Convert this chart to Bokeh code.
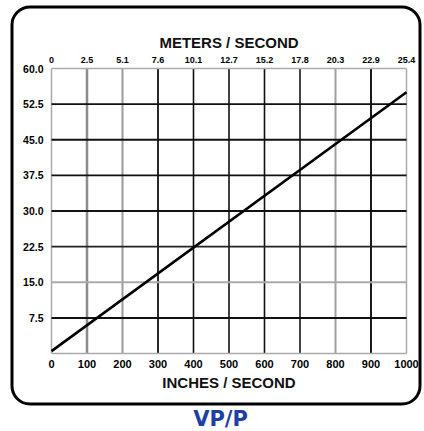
from bokeh.plotting import figure
from bokeh.models import Range1d
from bokeh.core.properties import value
from bokeh.embed import file_html
from bokeh.resources import INLINE

# ---- data ----
inches_ticks = [0, 100, 200, 300, 400, 500, 600, 700, 800, 900, 1000]
inches_labels = ["0", "100", "200", "300", "400", "500", "600", "700", "800", "900", "1000"]
meters_labels = ["0", "2.5", "5.1", "7.6", "10.1", "12.7", "15.2",
                 "17.8", "20.3", "22.9", "25.4"]
vpp_ticks = [0, 7.5, 15.0, 22.5, 30.0, 37.5, 45.0, 52.5, 60.0]
vpp_labels = ["7.5", "15.0", "22.5", "30.0", "37.5", "45.0", "52.5", "60.0"]
line_x = [0, 1000]
line_y = [0.5, 55.0]
x_max = 1000
y_max = 60.0
x_title = "INCHES / SECOND"
top_title = "METERS / SECOND"
caption = "VP/P"

# ---- styles ----
v_colors = ["#aaaaaa", "#8c8c8c", "#9a9a9a", "#111111", "#111111", "#111111",
            "#111111", "#444444", "#a0a0a0", "#1a1a1a", "#aaaaaa"]
v_widths = [1.5, 2.5, 2, 1.8, 1.6, 1.6, 1.6, 2, 2, 2, 1.5]
h_colors = ["#aaaaaa", "#111111", "#aaaaaa", "#222222", "#111111",
            "#111111", "#111111", "#111111", "#aaaaaa"]
h_widths = [1.5, 2, 2, 1.6, 1.8, 1.6, 2, 1.6, 1.5]

W, H = 424, 430
GL, GR, GT, GB = 51, 406, 68, 353  # grid area in canvas pixels


def px2x(px):
    return (px - GL) / (GR - GL) * x_max


def py2y(py):
    return (GB - py) / (GB - GT) * y_max


p = figure(width=W, height=H,
           x_range=Range1d(px2x(0), px2x(W)), y_range=Range1d(py2y(H), py2y(0)),
           x_axis_type=None, y_axis_type=None,
           output_backend="svg", toolbar_location=None, min_border=0)
p.xgrid.visible = False
p.ygrid.visible = False
p.outline_line_color = None
p.background_fill_color = "white"
p.border_fill_color = "white"

FONT = value("Liberation Sans")

# ---- rounded border (decoration, in pixel geometry) ----
BL, BR, BT, BB, R = 11.5, 419.5, 6.5, 403.5, 18
p.segment(x0=[px2x(BL + R), px2x(BL + R), px2x(BL), px2x(BR)],
          y0=[py2y(BT), py2y(BB), py2y(BT + R), py2y(BT + R)],
          x1=[px2x(BR - R), px2x(BR - R), px2x(BL), px2x(BR)],
          y1=[py2y(BT), py2y(BB), py2y(BB - R), py2y(BB - R)],
          line_color="black", line_width=3)
import math
p.arc(x=[px2x(BL + R), px2x(BR - R), px2x(BR - R), px2x(BL + R)],
      y=[py2y(BT + R), py2y(BT + R), py2y(BB - R), py2y(BB - R)],
      radius=R, radius_units="screen",
      start_angle=[math.pi / 2, 0, -math.pi / 2, math.pi],
      end_angle=[math.pi, math.pi / 2, 0, 3 * math.pi / 2],
      line_color="black", line_width=3)

# ---- grid ----
n = len(inches_ticks)
p.segment(x0=inches_ticks, y0=[0] * n, x1=inches_ticks, y1=[y_max] * n,
          line_color=v_colors, line_width=v_widths)
m = len(vpp_ticks)
p.segment(x0=[0] * m, y0=vpp_ticks, x1=[x_max] * m, y1=vpp_ticks,
          line_color=h_colors, line_width=h_widths)

# ---- the line ----
p.line(line_x, line_y, line_color="black", line_width=2.6)

# ---- tick labels ----
p.text(x=inches_ticks, y=[0] * n, text=inches_labels, y_offset=10,
       text_align="center", text_baseline="middle", text_font=FONT,
       text_font_style="bold", text_font_size="11px", text_color="black")
p.text(x=inches_ticks, y=[y_max] * n, text=meters_labels, y_offset=-9,
       text_align="center", text_baseline="middle", text_font=FONT,
       text_font_style="bold", text_font_size="9px", text_color="black")
p.text(x=[0] * (m - 1), y=vpp_ticks[1:], text=vpp_labels, x_offset=-8,
       text_align="right", text_baseline="middle", text_font=FONT,
       text_font_style="bold", text_font_size="10.5px", text_color="black")

# ---- axis titles ----
p.text(x=[x_max / 2], y=[0], text=[x_title], y_offset=29,
       text_align="center", text_baseline="middle", text_font=FONT,
       text_font_style="bold", text_font_size="15px", text_color="#111111")
p.text(x=[x_max / 2], y=[y_max], text=[top_title], y_offset=-26,
       text_align="center", text_baseline="middle", text_font=FONT,
       text_font_style="bold", text_font_size="15px", text_color="#111111")

# ---- caption ----
p.text(x=[px2x(220)], y=[0], text=[caption], y_offset=65,
       text_align="center", text_baseline="middle", text_font=value("DejaVu Sans"),
       text_font_style="bold", text_font_size="21px", text_color="#1c3fa8")

open("out.html", "w").write(file_html(p, INLINE))
